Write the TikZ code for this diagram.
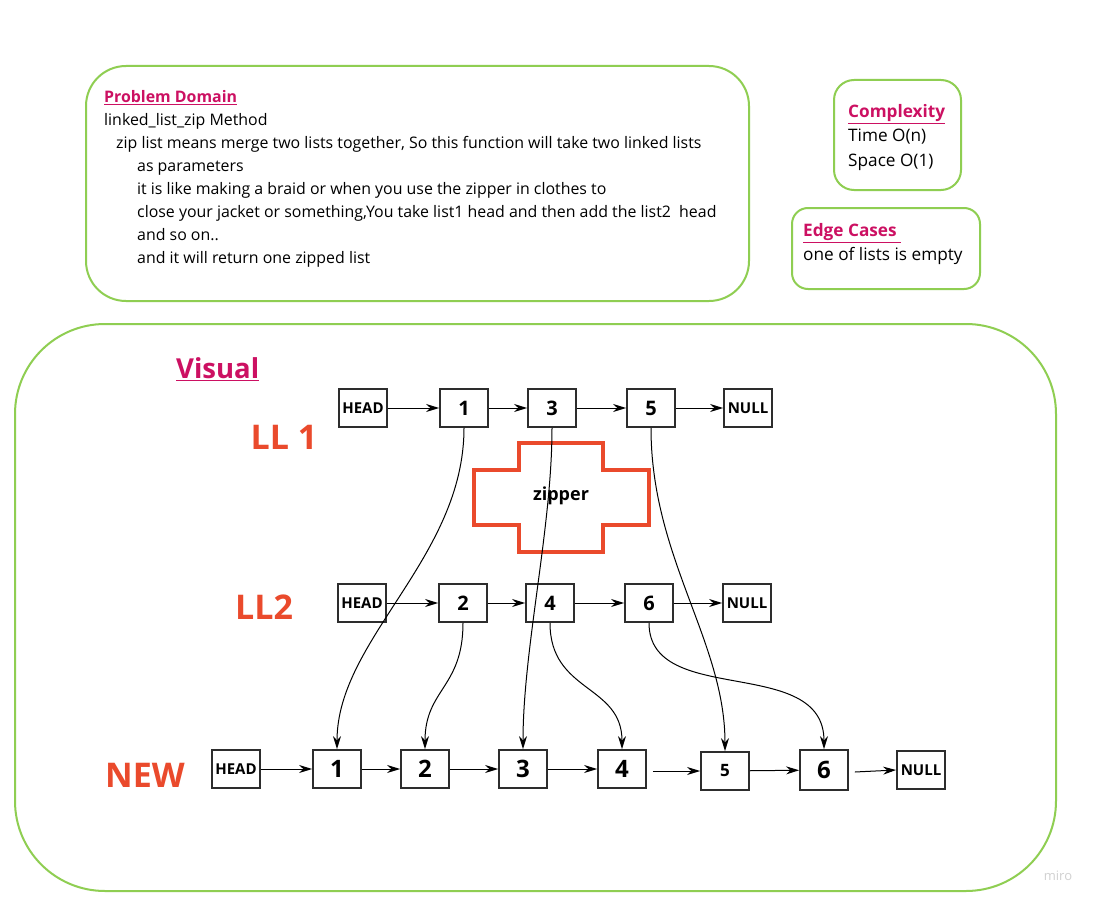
\documentclass[tikz,border=0pt]{standalone}
\usepackage{fontspec}
\setmainfont{Open Sans}
\usetikzlibrary{arrows.meta}
\definecolor{panelgreen}{RGB}{143,206,82}
\definecolor{headmagenta}{RGB}{204,16,98}
\definecolor{zipred}{RGB}{234,74,44}
\definecolor{boxgray}{RGB}{45,45,45}
\begin{document}
\begin{tikzpicture}[x=1pt, y=-1pt,
                panel/.style = {draw=panelgreen, line width=2pt, rounded corners=#1},
                cell/.style = {draw=boxgray, line width=1.8pt, minimum width=48pt, minimum height=38pt,
                               inner sep=0pt, font=\bfseries\fontsize{20}{20}\selectfont},
                bigcell/.style = {cell, font=\bfseries\fontsize{24}{24}\selectfont},
                endcell/.style = {cell, font=\bfseries\fontsize{15}{15}\selectfont},
                listname/.style = {text=zipred, font=\bfseries\fontsize{34}{34}\selectfont},
                link/.style = {-{Stealth[length=13pt, width=8pt]}, line width=1pt, black}
                ]
                \fill[white] (0,0) rectangle (1101,907);
                \useasboundingbox (0,0) rectangle (1101,907);
                \draw[panel=40pt] (86,66) rectangle (749,301);
                \draw[panel=20pt] (834,80) rectangle (961,190);
                \draw[panel=16pt] (792,208) rectangle (980,289);
                \draw[panel=90pt] (15,324) rectangle (1056,891);
                \node[anchor=north west, align=left, inner sep=0pt, font=\fontsize{15.9}{23}\selectfont] (problem) at (104,90)
                    {\textcolor{headmagenta}{\bfseries\underline{Problem Domain}}\\
                     linked\_list\_zip Method\\
                     \hspace*{12pt}zip list means merge two lists together, So this function will take two linked lists\\
                     \hspace*{33pt}as parameters\\
                     \hspace*{33pt}it is like making a braid or when you use the zipper in clothes to\\
                     \hspace*{33pt}close your jacket or something,You take list1 head and then add the list2\ \ head\\
                     \hspace*{33pt}and so on..\\
                     \hspace*{33pt}and it will return one zipped list};
                \node[anchor=north west, align=left, inner sep=0pt, font=\fontsize{17.2}{24.5}\selectfont] (complexity) at (848,104)
                    {\textcolor{headmagenta}{\bfseries\underline{Complexity}}\\
                     Time O(n)\\
                     Space O(1)};
                \node[anchor=north west, align=left, inner sep=0pt, font=\fontsize{17.2}{24.5}\selectfont] (edge) at (803,223)
                    {\textcolor{headmagenta}{\bfseries\underline{Edge Cases\ }}\\
                     one of lists is empty};
                \node[anchor=west, inner sep=0pt, text=headmagenta, font=\bfseries\fontsize{27.5}{27.5}\selectfont] (visual) at (176,369) {\underline{Visual}};
                \node[listname] (ll1name) at (284,437) {LL 1};
                \node[listname] (ll2name) at (264,607) {LL2};
                \node[listname] (newname) at (145,775) {NEW};
                \draw[zipred, line width=3.5pt] (519,443) -- (603,443) -- (603,470) -- (649,470) -- (649,525) -- (603,525)
                    -- (603,552) -- (519,552) -- (519,525) -- (474,525) -- (474,470) -- (519,470) -- cycle;
                \node[font=\bfseries\fontsize{18}{18}\selectfont] (zipper) at (561,496) {zipper};
                \node[endcell] (ahead) at (363,408) {HEAD};
                \node[cell] (a1) at (464,408) {1};
                \node[cell] (a3) at (552,408) {3};
                \node[cell] (a5) at (651,408) {5};
                \node[endcell] (anull) at (748,408) {NULL};
                \node[endcell] (bhead) at (362,603) {HEAD};
                \node[cell] (b2) at (463,603) {2};
                \node[cell] (b4) at (550,603) {4};
                \node[cell] (b6) at (649,603) {6};
                \node[endcell] (bnull) at (747,603) {NULL};
                \node[endcell] (nhead) at (236,769) {HEAD};
                \node[bigcell] (n1) at (337,769) {1};
                \node[bigcell] (n2) at (425,769) {2};
                \node[bigcell] (n3) at (523,769) {3};
                \node[bigcell] (n4) at (622,769) {4};
                \node[cell, font=\bfseries\fontsize{17}{17}\selectfont] (n5) at (725,771) {5};
                \node[bigcell, minimum height=40pt] (n6) at (824,770) {6};
                \node[endcell] (nnull) at (921,770) {NULL};
                \draw[link] (ahead) -- (a1);
                \draw[link] (a1) -- (a3);
                \draw[link] (a3) -- (a5);
                \draw[link] (a5) -- (anull);
                \draw[link] (bhead) -- (b2);
                \draw[link] (b2) -- (b4);
                \draw[link] (b4) -- (b6);
                \draw[link] (b6) -- (bnull);
                \draw[link] (nhead) -- (n1);
                \draw[link] (n1) -- (n2);
                \draw[link] (n2) -- (n3);
                \draw[link] (n3) -- (n4);
                \draw[link] (n4.east) ++(6,2) -- (n5);
                \draw[link] (n5) -- (n6);
                \draw[link] (n6.east) ++(6,2) -- (nnull.west);
                \draw[link] (a1.south) .. controls +(0,130) and +(0,-110) .. (n1.north);
                \draw[link] (a3.south) .. controls +(0,100) and +(0,-100) .. (n3.north);
                \draw[link] (a5.south) .. controls +(0,130) and +(0,-110) .. (n5.north);
                \draw[link] (b2.south) .. controls +(0,65) and +(0,-60) .. (n2.north);
                \draw[link] (b4.south) .. controls +(0,70) and +(0,-65) .. (n4.north);
                \draw[link] (b6.south) .. controls +(0,85) and +(0,-95) .. (n6.north);
                \node[text=black!18, font=\fontsize{13}{13}\selectfont] (miro) at (1058,876) {miro};
\end{tikzpicture}
\end{document}
